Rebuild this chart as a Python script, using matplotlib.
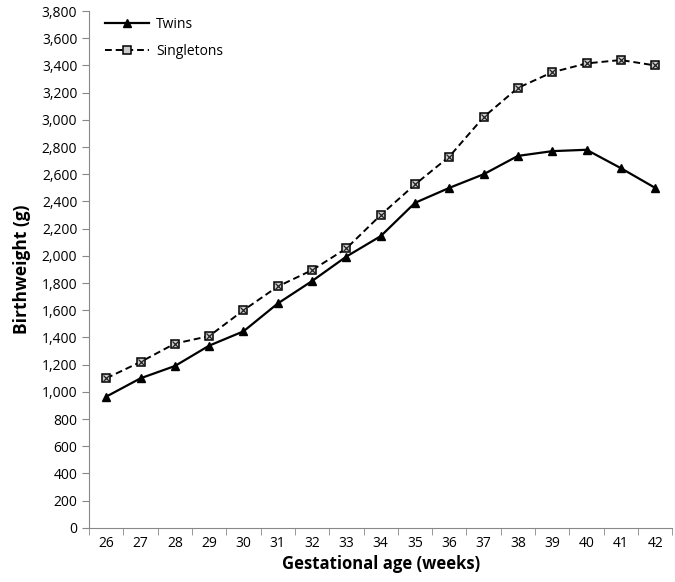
import matplotlib.pyplot as plt
import numpy as np
from matplotlib.ticker import FuncFormatter

weeks = list(range(26, 43))
twins = [965, 1100, 1190, 1340, 1445, 1650, 1815, 1995, 2145, 2390,
         2500, 2600, 2735, 2770, 2780, 2645, 2500]
singletons = [1100, 1220, 1355, 1410, 1600, 1775, 1895, 2055, 2300, 2525,
              2730, 3020, 3235, 3350, 3415, 3440, 3400]

plt.rcParams['font.family'] = ['Open Sans', 'DejaVu Sans']

fig = plt.figure(figsize=(6.75, 5.82), dpi=100)
ax = fig.add_axes([0.132, 0.093, 0.864, 0.888])

ax.plot(weeks, twins, color='black', linestyle='-', linewidth=1.6,
        marker='^', markersize=6, label='Twins')
ax.plot(weeks, singletons, color='black', linestyle=(0, (3.5, 2)), linewidth=1.4,
        marker='s', markersize=5.5, markerfacecolor='#cccccc',
        markeredgecolor='black', markeredgewidth=1.1, label='Singletons')
# the cross inside the square markers
ax.plot(weeks, singletons, linestyle='none', marker='x', markersize=4,
        color='#222222', markeredgewidth=0.9)

ax.set_xlim(25.5, 42.5)
ax.set_ylim(0, 3800)
ax.set_xticks(weeks)
ax.set_xticks(np.arange(25.5, 43, 1), minor=True)
ax.tick_params(axis='x', which='major', length=0, labelsize=10, pad=6)
ax.tick_params(axis='x', which='minor', length=5, color='#888888')
ax.set_yticks(range(0, 3801, 200))
ax.yaxis.set_major_formatter(FuncFormatter(lambda v, p: f'{int(v):,}'))
ax.tick_params(axis='y', length=5, color='#888888', labelsize=10)

for s in ['top', 'right']:
    ax.spines[s].set_visible(False)
for s in ['left', 'bottom']:
    ax.spines[s].set_color('#888888')

ax.set_xlabel('Gestational age (weeks)', fontsize=12, fontweight='bold', labelpad=3)
ax.set_ylabel('Birthweight (g)', fontsize=12.5, fontweight='bold', labelpad=8)

ax.legend(loc='upper left', frameon=False, fontsize=10, labelspacing=0.85,
          bbox_to_anchor=(0.005, 1.012), handlelength=3.2, handletextpad=0.5)

plt.savefig('out.png', dpi=100)
